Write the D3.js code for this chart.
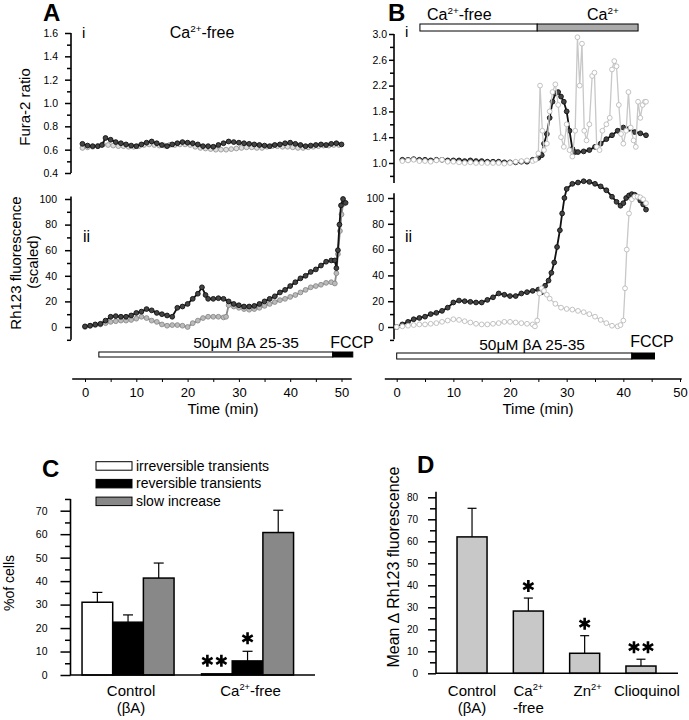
<!DOCTYPE html>
<html><head><meta charset="utf-8">
<script src="https://cdn.jsdelivr.net/npm/d3@7"></script>
<style>body{margin:0;background:#fff}svg{display:block}</style>
</head><body><script>
// ---------------- DATA ----------------
// Panel A i : Fura-2 ratio (Ca2+-free), [time(min), ratio]
const aFuraBlack = [[-0.5,0.65],[0.5,0.635],[1.5,0.63],[2.5,0.63],[3.3,0.64],[4,0.70],[5,0.685],[6,0.665],[7,0.655],[8,0.645],[9,0.635],[10,0.63],[11,0.645],[12,0.66],[13,0.67],[14,0.655],[15,0.64],[16,0.63],[17,0.645],[18,0.655],[19,0.665],[20,0.66],[21,0.655],[22,0.645],[23,0.63],[24,0.63],[25,0.625],[26,0.64],[27,0.655],[28,0.67],[29,0.665],[30,0.66],[31,0.655],[32,0.65],[33,0.645],[34,0.64],[35,0.635],[36,0.63],[37,0.64],[38,0.645],[39,0.655],[40,0.66],[41,0.65],[42,0.64],[43,0.63],[44,0.635],[45,0.64],[46,0.645],[47,0.64],[48,0.65],[49,0.655],[50,0.645]];
const aFuraGray = [[-0.5,0.615],[0.5,0.62],[1.5,0.625],[2.5,0.63],[3.5,0.645],[4.5,0.64],[5.5,0.635],[6.5,0.63],[7.5,0.63],[8.5,0.625],[9.5,0.625],[10.5,0.63],[11.5,0.64],[12.5,0.645],[13.5,0.64],[14.5,0.635],[15.5,0.635],[16.5,0.64],[17.5,0.64],[18.5,0.645],[19.5,0.645],[20.5,0.64],[21.5,0.625],[22.5,0.615],[23.5,0.61],[24.5,0.605],[25.5,0.60],[26.5,0.60],[27.5,0.60],[28.5,0.605],[29.5,0.61],[30.5,0.615],[31.5,0.62],[32.5,0.62],[33.5,0.615],[34.5,0.615],[35.5,0.625],[36.5,0.63],[37.5,0.63],[38.5,0.625],[39.5,0.625],[40.5,0.62],[41.5,0.615],[42.5,0.615],[43.5,0.62],[44.5,0.625],[45.5,0.63],[46.5,0.635],[47.5,0.635],[48.5,0.64],[49.5,0.64]];
// Panel A ii : Rh123 fluorescence (scaled)
const aRhBlack = [[0,0.5],[1,1],[2,2],[3,2.5],[4,5],[5,8],[6,8.5],[7,8],[8,8],[9,9],[10,11],[11,12],[12,14],[13,13],[14,11],[15,10],[16,9],[17,8],[18,15],[19,16],[20,18],[21,22],[22,26],[22.8,31],[23.5,25],[24,22],[25,22],[26,22.5],[27,22],[28,20],[29,18],[30,17],[31,16],[32,16],[33,16.5],[34,18],[35,20],[36,22],[37,24],[38,27],[39,29],[40,32],[41,35],[42,38],[43,40],[44,43],[45,45],[46,48],[47,51],[48,52],[48.7,52],[49,46],[49.3,60],[49.6,80],[49.9,95],[50.3,100],[50.8,97]];
const aRhGray = [[0,0],[1,1],[2,1.5],[3,2],[4,3],[5,4],[6,4.5],[7,5],[8,5],[9,5.5],[10,6.5],[11,8],[12,7],[13,5],[14,4],[15,2],[16,1],[17,1.5],[18,1.5],[19,1],[20,0],[21,3],[22,5],[23,7],[24,8],[25,8],[26,8],[27,7.5],[27.5,8],[28,17],[29,16],[30,15],[31,14],[32,13.5],[33,14],[34,15],[35,16.5],[36,18],[37,19.5],[38,21],[39,22],[40,23.5],[41,25],[42,27],[43,29],[44,31],[45,32],[46,33],[47,34.5],[48,35],[48.7,34],[49,42],[49.3,57],[49.7,75],[50,88],[50.3,96]];
// Panel B i : Fura-2 ratio (Ca2+-free then Ca2+)
const bFuraBlack = [[1,1.05],[2,1.05],[3,1.06],[4,1.05],[5,1.05],[6,1.04],[7,1.05],[8,1.05],[9,1.04],[10,1.04],[11,1.04],[12,1.03],[13,1.04],[14,1.03],[15,1.03],[16,1.02],[17,1.02],[18,1.02],[19,1.01],[20,1.01],[21,1.01],[22,1.02],[23,1.02],[24,1.05],[25,1.08],[25.6,1.12],[26,1.3],[26.5,1.45],[27,1.7],[27.5,1.95],[28,2.08],[28.5,2.1],[29,2.03],[29.5,1.95],[30,1.8],[30.5,1.5],[31,1.22],[31.5,1.17],[32,1.17],[33,1.18],[34,1.2],[35,1.25],[36,1.3],[37,1.37],[38,1.43],[39,1.5],[40,1.55],[41,1.53],[42,1.48],[43,1.46],[44,1.43]];
const bFuraGray = [[1,1.03],[2,1.04],[3,1.05],[4,1.03],[5,1.03],[6,1.02],[7,1.04],[8,1.05],[9,1.02],[10,1.02],[11,1.01],[12,1.0],[13,1.01],[14,1.0],[15,1.0],[16,1.0],[17,1.0],[18,1.0],[19,0.99],[20,1.0],[21,1.02],[22,1.03],[23,1.04],[24,1.03],[24.5,1.05],[25,1.15],[25.3,2.2],[25.7,1.5],[26,1.2],[26.5,1.3],[27,1.8],[27.5,2.1],[28,2.22],[28.5,1.9],[29,1.4],[29.5,1.25],[30,1.6],[30.5,1.2],[31,1.1],[31.5,1.5],[31.9,2.95],[32.3,2.2],[32.7,2.85],[33.1,1.5],[33.5,1.35],[34,1.6],[34.5,2.35],[34.9,2.4],[35.3,1.25],[35.8,1.2],[36.3,1.5],[37,1.6],[37.6,1.7],[38,2.45],[38.4,2.58],[38.8,2.5],[39.2,1.9],[39.6,1.45],[40,1.3],[40.5,1.5],[40.9,2.1],[41.3,1.55],[41.8,1.35],[42.2,1.25],[42.6,1.95],[43,1.7],[43.4,1.9],[43.8,1.95],[44,1.95]];
// Panel B ii : Rh123 fluorescence (scaled)
const bRhBlack = [[0,0],[1,2],[2,4],[3,6],[4,7],[5,8],[6,10],[7,11],[8,12.5],[9,15],[10,19],[11,20.5],[12,20],[13,19.5],[14,19],[15,19],[16,21],[17,23],[18,26],[19,25],[20,24],[21,24],[22,26],[23,27],[24,28],[25,29],[25.6,27],[26.2,32],[26.8,36],[27.3,42],[27.8,50],[28.3,62],[28.8,75],[29.2,88],[29.6,100],[30,107],[31,111],[32,112],[33,113],[34,112.5],[35,111],[36,109],[37,106],[38,101],[38.8,97],[39.5,94],[40,96],[40.5,100],[41,102],[41.5,103],[42,102.5],[42.5,101],[43,98],[43.5,95],[44,91]];
const bRhGray = [[0,0],[1,0.5],[2,1],[3,1.5],[4,2],[5,2],[6,2.5],[7,3],[8,4],[9,5],[10,6],[11,5.5],[12,4.5],[13,3.5],[14,2.5],[15,2],[16,2],[17,2.5],[18,3],[19,4],[20,4],[21,3.5],[22,3],[23,2.5],[24,2],[24.4,0.5],[24.8,5],[25.2,26],[25.6,30],[26,28],[26.5,25],[27,22],[28,18],[29,15],[30,14],[31,13.5],[32,12.5],[33,11.5],[34,10],[35,8],[36,5.5],[37,3],[38,1],[39,0.5],[39.5,1.5],[40,5],[40.3,30],[40.6,60],[41,88],[41.5,99],[42,101],[42.5,101],[43,100.5],[43.5,99],[44,96]];
// Treatment bars (time, min)
const aBetaA = [2.7, 48.3], aFCCP = [48.3, 52.2];
const bBetaA = [0, 41.5], bFCCP = [41.5, 45.5];
const bCaFree = [4.1, 24.8], bCa = [24.8, 42.6];
// Axis ticks
const timeMajor = [0,10,20,30,40,50], timeMinor = [5,15,25,35,45];
const aFuraMajor = [0.4,0.6,0.8,1.0,1.2,1.4,1.6], aFuraMinor = [0.5,0.7,0.9,1.1,1.3,1.5];
const rhMajor = [0,20,40,60,80,100], rhMinor = [-10,10,30,50,70,90];
const bFuraMajor = [1.0,1.4,1.8,2.2,2.6,3.0], bFuraMinor = [0.8,1.2,1.6,2.0,2.4,2.8];
// Panel C
const cCategories = ["Control (βA)", "Ca2+-free"];
const cSeries = ["irreversible transients", "reversible transients", "slow increase"];
const cIrreversible = [31.0, 0.5], cIrreversibleErr = [35.2, null];
const cReversible = [22.5, 6.0], cReversibleErr = [25.6, 10.1];
const cSlow = [41.3, 60.7], cSlowErr = [47.7, 70.2];
const cStars = [["Ca2+-free","irreversible transients",2],["Ca2+-free","reversible transients",1]];
const cTicks = [0,10,20,30,40,50,60,70], cMinor = [5,15,25,35,45,55,65,75];
// Panel D
const dCategories = ["Control (βA)", "Ca2+-free", "Zn2+", "Clioquinol"];
const dMean = [62.0, 28.3, 9.1, 3.3], dErr = [75.0, 34.2, 17.1, 6.4];
const dStars = [0, 1, 1, 2];
const dTicks = [0,10,20,30,40,50,60,70,80], dMinor = [5,15,25,35,45,55,65,75];

// ---------------- DRAW ----------------
const FONT = "'Liberation Sans', Arial, Helvetica, sans-serif";
const svg = d3.select('body').append('svg').attr('width',689).attr('height',720)
  .style('font-family',FONT);

function rich(g, x, y, parts, size, anchor='middle', weight='normal') {
  const t = g.append('text').attr('x',x).attr('y',y).attr('font-size',size)
    .attr('text-anchor',anchor).attr('font-weight',weight).attr('fill','#000');
  let sup = false;
  parts.forEach(([s, isSup]) => {
    const sp = t.append('tspan').text(s);
    if (isSup) { sp.attr('font-size', size*0.62); if (!sup) sp.attr('dy', -size*0.4); }
    else if (sup) sp.attr('dy', size*0.4);
    sup = !!isSup;
  });
  return t;
}
function label(x, y, s, size, opts={}) {
  return svg.append('text').attr('x',x).attr('y',y).attr('font-size',size)
    .attr('text-anchor',opts.anchor||'start').attr('font-weight',opts.weight||'normal').text(s);
}
function vlabel(x, y, s, size) {
  return svg.append('text').attr('transform',`translate(${x},${y}) rotate(-90)`)
    .attr('text-anchor','middle').attr('font-size',size).text(s);
}
function leftAxis(scale, x, majors, minors, fmt, ext, size, pad, majLen, minLen) {
  const ga = svg.append('g').attr('transform',`translate(${x},0)`);
  ga.append('line').attr('y1',scale(ext[0])).attr('y2',scale(ext[1]))
    .attr('stroke','#000').attr('stroke-width',1.6);
  const a = ga.append('g').call(d3.axisLeft(scale).tickValues(majors).tickSize(majLen).tickPadding(pad).tickFormat(fmt));
  a.select('.domain').remove();
  a.attr('font-family',FONT).attr('font-size',size);
  a.selectAll('line').attr('stroke-width',1.5);
  const m = ga.append('g').call(d3.axisLeft(scale).tickValues(minors).tickSize(minLen).tickFormat(''));
  m.select('.domain').remove();
  m.selectAll('line').attr('stroke-width',1.5);
}
function timeAxis(x, y, ext, lx) {
  const ga = svg.append('g').attr('transform',`translate(0,${y})`);
  ga.append('line').attr('x1',x(ext[0])).attr('x2',x(ext[1])).attr('stroke','#000').attr('stroke-width',1.3);
  const a = ga.append('g').call(d3.axisBottom(x).tickValues(timeMajor).tickSize(3).tickPadding(6).tickFormat(d3.format('d')));
  a.select('.domain').remove();
  a.attr('font-family',FONT).attr('font-size',13);
  const m = ga.append('g').call(d3.axisBottom(x).tickValues(timeMinor).tickSize(3).tickFormat(''));
  m.select('.domain').remove();
  label(lx, 414, 'Time (min)', 15, {anchor:'middle'});
}
function series(data, x, y, st) {
  const g = svg.append('g');
  g.append('path').datum(data).attr('d', d3.line().x(d=>x(d[0])).y(d=>y(d[1])))
    .attr('fill','none').attr('stroke',st.line).attr('stroke-width',st.lw||1.8);
  g.selectAll('circle').data(data).join('circle')
    .attr('cx',d=>x(d[0])).attr('cy',d=>y(d[1])).attr('r',st.r||2.4)
    .attr('fill',st.fill).attr('stroke',st.stroke).attr('stroke-width',0.9);
}
function hbar(x, range, y, h, fill) {
  svg.append('rect').attr('x',x(range[0])).attr('y',y).attr('width',x(range[1])-x(range[0])).attr('height',h)
    .attr('fill',fill).attr('stroke','#000').attr('stroke-width',1);
}
const starSym = d3.symbol(d3.symbolAsterisk, 100);
function stars(cx, cy, n) {
  for (let i = 0; i < n; i++) {
    const ox = cx + (i - (n-1)/2) * 14;
    svg.append('path').attr('d', starSym()).attr('transform',`translate(${ox},${cy})`)
      .attr('fill','none').attr('stroke','#000').attr('stroke-width',2.6);
  }
}

const blackSt = {line:'#111', fill:'#444', stroke:'#111'};

// ---- Panel A ----
const xA = d3.scaleLinear([0,50],[85,341.5]);
const yAi = d3.scaleLinear([0.4,1.6],[173,33]);
const yAii = d3.scaleLinear([0,100],[327,199]);
label(43, 21, 'A', 24, {weight:'bold'});
leftAxis(yAi, 71, aFuraMajor, aFuraMinor, d3.format('.1f'), [0.4,1.6], 10.5, 7, 6, 4);
vlabel(30, 107, 'Fura-2 ratio', 15);
label(82, 38, 'i', 15);
rich(svg, 202, 38, [['Ca',0],['2+',1],['-free',0]], 16);
series(aFuraGray, xA, yAi, {line:'#999', fill:'#ddd', stroke:'#999'});
series(aFuraBlack, xA, yAi, blackSt);

leftAxis(yAii, 71, rhMajor, rhMinor, d3.format('d'), [-10,102], 10.5, 8, 6, 4);
vlabel(21, 263, 'Rh123 fluorescence', 15);
vlabel(38, 262, '(scaled)', 15);
label(83, 242, 'ii', 16);
series(aRhGray, xA, yAii, {line:'#8a8a8a', fill:'#bbb', stroke:'#8a8a8a'});
series(aRhBlack, xA, yAii, blackSt);
hbar(xA, aBetaA, 352, 5, '#fff');
hbar(xA, aFCCP, 352, 5, '#000');
label(xA(31.4), 348, '50μM βA 25-35', 15.5, {anchor:'middle'});
label(xA(47.8), 348, 'FCCP', 16);
timeAxis(xA, 379, [-2.5, 52], 223);

// ---- Panel B ----
const xB = d3.scaleLinear([0,50],[396.7,680]);
const yBi = d3.scaleLinear([1.0,3.0],[163,34]);
const yBii = d3.scaleLinear([0,100],[327,198]);
label(388, 21, 'B', 24, {weight:'bold'});
rich(svg, 427, 20, [['Ca',0],['2+',1],['-free',0]], 16, 'start');
rich(svg, 587, 20, [['Ca',0],['2+',1]], 16, 'start');
hbar(xB, bCaFree, 24, 7, '#fff');
hbar(xB, bCa, 24, 7, '#aaa');
leftAxis(yBi, 394, bFuraMajor, bFuraMinor, d3.format('.1f'), [0.69,3.0], 10.5, 2, 5, 4);
label(405, 37, 'i', 15);
series(bFuraBlack, xB, yBi, blackSt);
series(bFuraGray, xB, yBi, {line:'#c8c8c8', fill:'#fff', stroke:'#bbb', lw:1.3});

leftAxis(yBii, 394, rhMajor, rhMinor, d3.format('d'), [-9.5,103.6], 10.5, 4, 6, 4);
label(405, 242, 'ii', 16);
series(bRhBlack, xB, yBii, blackSt);
series(bRhGray, xB, yBii, {line:'#c8c8c8', fill:'#fff', stroke:'#bbb', lw:1.3});
hbar(xB, bBetaA, 353, 6, '#fff');
hbar(xB, bFCCP, 353, 6, '#000');
label(xB(23.9), 350, '50μM βA 25-35', 15.5, {anchor:'middle'});
label(xB(41.2), 347, 'FCCP', 16);
timeAxis(xB, 379, [-2.1, 50.3], 538);

// ---- Panel C ----
const yC = d3.scaleLinear([0,70],[675,510.7]);
const cGroup = d3.scaleBand().domain(cCategories).range([65.3, 310.3]).paddingInner(0.23).paddingOuter(0.14);
const cInner = d3.scaleBand().domain(cSeries).range([0, cGroup.bandwidth()]);
const cFill = {"irreversible transients":'#fff', "reversible transients":'#000', "slow increase":'#888'};
const cVals = {"irreversible transients":[cIrreversible,cIrreversibleErr], "reversible transients":[cReversible,cReversibleErr], "slow increase":[cSlow,cSlowErr]};
label(42, 477, 'C', 24, {weight:'bold'});
cSeries.forEach((s,i) => {
  const yy = 461.7 + i*17.7;
  svg.append('rect').attr('x',96).attr('y',yy).attr('width',36).attr('height',8.5)
    .attr('fill',cFill[s]).attr('stroke','#000').attr('stroke-width',1);
  label(136, yy + 8.8, s, 14);
});
leftAxis(yC, 70.5, cTicks, cMinor, d3.format('d'), [0,75], 10.5, 13, 10, 5.5);
vlabel(14, 583, '%of cells', 14);
cSeries.forEach(s => {
  const [vals, errs] = cVals[s];
  cCategories.forEach((c,j) => {
    const x0 = cGroup(c) + cInner(s), w = cInner.bandwidth();
    if (errs[j] != null) {
      const cx = x0 + w/2;
      svg.append('line').attr('x1',cx).attr('x2',cx).attr('y1',yC(vals[j])).attr('y2',yC(errs[j])).attr('stroke','#000').attr('stroke-width',1.2);
      svg.append('line').attr('x1',cx-5).attr('x2',cx+5).attr('y1',yC(errs[j])).attr('y2',yC(errs[j])).attr('stroke','#000').attr('stroke-width',1.2);
    }
    svg.append('rect').attr('x',x0).attr('y',yC(vals[j])).attr('width',w).attr('height',yC(0)-yC(vals[j]))
      .attr('fill',cFill[s]).attr('stroke','#000').attr('stroke-width',1.5);
  });
});
svg.append('line').attr('x1',70).attr('x2',315).attr('y1',yC(0)).attr('y2',yC(0)).attr('stroke','#000').attr('stroke-width',1.6);
cStars.forEach(([c,s,n]) => {
  const j = cCategories.indexOf(c);
  const [vals, errs] = cVals[s];
  const top = errs[j] != null ? errs[j] : vals[j];
  stars(cGroup(c) + cInner(s) + cInner.bandwidth()/2 - (n>1?2.5:0), yC(top) - 13, n);
});
const cLabelParts = [[[['Control',0]],[['(βA)',0]]], [[['Ca',0],['2+',1],['-free',0]]]];
cCategories.forEach((c,j) => {
  cLabelParts[j].forEach((line,k) => rich(svg, cGroup(c) + cGroup.bandwidth()/2 + 3, 696 + k*17, line, 15));
});

// ---- Panel D ----
const yD = d3.scaleLinear([0,80],[673.3,497.3]);
const dBand = d3.scaleBand().domain(dCategories).range([434.5, 678.5]).paddingInner(0.467).paddingOuter(0.4);
label(417, 473, 'D', 24, {weight:'bold'});
leftAxis(yD, 436, dTicks, dMinor, d3.format('d'), [0,82.5], 10, 10, 8, 6);
vlabel(399, 567, 'Mean  \u2206 Rh123 fluorescence', 16);
dCategories.forEach((c,j) => {
  const x0 = dBand(c), w = dBand.bandwidth(), cx = x0 + w/2;
  svg.append('line').attr('x1',cx).attr('x2',cx).attr('y1',yD(dMean[j])).attr('y2',yD(dErr[j])).attr('stroke','#000').attr('stroke-width',1.2);
  svg.append('line').attr('x1',cx-4.5).attr('x2',cx+4.5).attr('y1',yD(dErr[j])).attr('y2',yD(dErr[j])).attr('stroke','#000').attr('stroke-width',1.2);
  svg.append('rect').attr('x',x0).attr('y',yD(dMean[j])).attr('width',w).attr('height',yD(0)-yD(dMean[j]))
    .attr('fill','#c8c8c8').attr('stroke','#000').attr('stroke-width',1.5);
  if (dStars[j]) stars(cx, yD(dErr[j]) - 12, dStars[j]);
});
svg.append('line').attr('x1',436).attr('x2',678).attr('y1',yD(0)).attr('y2',yD(0)).attr('stroke','#000').attr('stroke-width',1.6);
const dLabelParts = [
  [[['Control',0]],[['(βA)',0]]],
  [[['Ca',0],['2+',1]],[['-free',0]]],
  [[['Zn',0],['2+',1]]],
  [[['Clioquinol',0]]]
];
dCategories.forEach((c,j) => {
  dLabelParts[j].forEach((line,k) => rich(svg, dBand(c) + dBand.bandwidth()/2 + (j===2?3:0) + (j===3?6:0), 696 + k*17, line, 15));
});
</script></body></html>
